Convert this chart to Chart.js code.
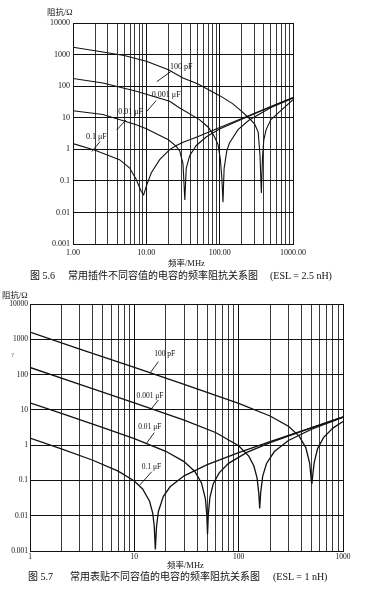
<!DOCTYPE html>
<html lang="zh">
<head>
<meta charset="utf-8">
<title>电容的频率阻抗关系图</title>
<script src="https://cdn.jsdelivr.net/npm/chart.js@4.4.0/dist/chart.umd.min.js"></script>
<style>
  body { margin: 0; background: #fff; }
  #page { position: relative; width: 371px; height: 589px; overflow: hidden;
          font-family: 'Liberation Serif', 'Noto Sans CJK SC', serif; color: #111; }
  canvas { position: absolute; left: 0; }
  .t { position: absolute; white-space: nowrap; line-height: 1; }
  .cap { font-size: 10px; }
  .ax { font-size: 8.5px; }
</style>
</head>
<body>
<div id="page">
  <canvas id="fig56" width="371" height="290" style="top:0"></canvas>
  <canvas id="fig57" width="371" height="299" style="top:290px"></canvas>

  <div class="t ax" style="left:47px;top:8px">阻抗/Ω</div>
  <div class="t ax" style="left:168px;top:259px">频率/MHz</div>
  <div class="t cap" style="left:30px;top:271px">图 5.6</div>
  <div class="t cap" style="left:68px;top:271px">常用插件不同容值的电容的频率阻抗关系图</div>
  <div class="t cap" style="left:270px;top:271px">(ESL = 2.5 nH)</div>

  <div class="t ax" style="left:2px;top:291px">阻抗/Ω</div>
  <div class="t" style="left:11px;top:352px;font-size:7px;color:#666">?</div>
  <div class="t ax" style="left:167px;top:561px">频率/MHz</div>
  <div class="t cap" style="left:28px;top:572px">图 5.7</div>
  <div class="t cap" style="left:70px;top:572px">常用表贴不同容值的电容的频率阻抗关系图</div>
  <div class="t cap" style="left:273px;top:572px">(ESL = 1 nH)</div>
</div>

<script>
// 刻度标签
const yTickValues = [0.001, 0.01, 0.1, 1, 10, 100, 1000, 10000];
const yTickLabels = ['0.001', '0.01', '0.1', '1', '10', '100', '1000', '10000'];
const xDecades = [1, 10, 100, 1000];
const xLabels56 = ['1.00', '10.00', '100.00', '1000.00'];
const xLabels57 = ['1', '10', '100', '1000'];

// 图 5.6 插件电容 (频率 MHz, 阻抗 Ω)
const f56_100p = [1, 2, 5, 10, 20, 31.6, 50, 100, 150, 200, 250, 300, 335, 355, 370, 385, 400, 430, 500, 700, 1000];
const z56_100p = [1700, 1320, 933, 617, 331, 182, 120, 50, 28, 15.8, 9.8, 6.3, 3.5, 0.63, 0.041, 0.63, 2.0, 4.2, 8.7, 17.8, 37];
const f56_1n = [1, 2.56, 7.3, 20.8, 28.5, 53, 70, 85, 95, 102, 107, 111, 115, 125, 136, 178, 250, 500, 1000];
const z56_1n = [174, 126, 69, 33, 20.4, 8.7, 5.0, 2.5, 1.41, 0.5, 0.126, 0.021, 0.25, 0.89, 1.58, 4.2, 8.3, 20.9, 41.7];
const f56_10n = [1, 2.56, 7.3, 10, 20, 25.6, 28.5, 31.6, 33.5, 35, 39, 48, 66, 100, 200, 500, 1000];
const z56_10n = [16.6, 12.6, 6.0, 4.5, 2.0, 1.23, 0.89, 0.35, 0.025, 0.25, 0.63, 1.32, 2.5, 4.4, 8.9, 22.4, 43];
const f56_100n = [1, 2, 4.3, 5.9, 7.3, 8.5, 9.2, 10, 11.7, 15.2, 20.8, 25.6, 33, 50, 100, 200, 500, 1000];
const z56_100n = [1.51, 0.93, 0.47, 0.26, 0.11, 0.047, 0.036, 0.068, 0.18, 0.47, 0.98, 1.32, 1.74, 2.5, 4.9, 9.5, 22.5, 44];

// 图 5.7 表贴电容
const f57_100p = [1, 3, 10, 30, 100, 200, 300, 380, 440, 480, 495, 503, 512, 530, 570, 650, 800, 1000];
const z57_100p = [1591, 530, 159, 52.9, 15.3, 6.7, 3.42, 1.8, 0.852, 0.3, 0.11, 0.08, 0.135, 0.327, 0.789, 1.636, 3.04, 4.69];
const f57_1n = [1, 3, 10, 30, 60, 100, 125, 140, 150, 156, 159, 162.5, 170, 185, 220, 300, 500, 1000];
const z57_1n = [159, 53, 15.85, 5.12, 2.28, 0.963, 0.488, 0.257, 0.1185, 0.043, 0.016, 0.044, 0.132, 0.302, 0.659, 1.354, 2.82, 6.12];
const f57_10n = [1, 2, 5, 10, 20, 30, 38, 44, 48, 49.5, 50.3, 51.2, 53, 57, 65, 80, 120, 200, 400, 1000];
const z57_10n = [15.9, 7.95, 3.15, 1.53, 0.67, 0.342, 0.18, 0.0852, 0.03, 0.0105, 0.003, 0.0109, 0.0327, 0.0789, 0.164, 0.304, 0.621, 1.18, 2.47, 6.27];
const f57_100n = [1, 2, 4, 7, 10, 12, 14, 15, 15.5, 15.9, 16.3, 17, 19, 22, 30, 50, 100, 200, 500, 1000];
const z57_100n = [1.585, 0.783, 0.373, 0.183, 0.0963, 0.0572, 0.0257, 0.0119, 0.0053, 0.0011, 0.0048, 0.0132, 0.0356, 0.0659, 0.135, 0.282, 0.612, 1.25, 3.14, 6.28];

// 曲线标注 (文字位置, 引线起点/终点, 均为数据坐标)
const notes56 = [
  { text: '100 pF',   at: [21.0, 414], from: [13.9, 139],  to: [21.5, 288] },
  { text: '0.001 μF', at: [11.9, 52.7], from: [10.1, 15.6], to: [13.6, 34.8] },
  { text: '0.01 μF',  at: [4.15, 14.9], from: [3.95, 4.11], to: [5.28, 8.5] },
  { text: '0.1 μF',   at: [1.50, 2.52], from: [1.80, 0.845], to: [2.34, 1.75] }
];
const notes57 = [
  { text: '100 pF',   at: [15.5, 384],  from: [14.1, 109],   to: [17.0, 232] },
  { text: '0.001 μF', at: [10.5, 24.8], from: [14.7, 11.1],  to: [17.0, 19.1] },
  { text: '0.01 μF',  at: [10.9, 3.34], from: [13.1, 1.13],  to: [15.5, 2.26] },
  { text: '0.1 μF',   at: [11.8, 0.237], from: [11.3, 0.0746], to: [14.7, 0.177] }
];

Chart.defaults.font.family = "'Liberation Serif', 'Noto Sans CJK SC', serif";
Chart.defaults.color = '#111';

const xGridTicks = [];
for (let d = 1; d <= 100; d *= 10) {
  for (let m = 1; m < 10; m++) xGridTicks.push(d * m);
}
xGridTicks.push(1000);

function series(fs, zs) {
  return fs.map((f, i) => ({ x: f, y: zs[i] }));
}

const notePlugin = {
  id: 'notes',
  afterDatasetsDraw(chart, args, opts) {
    const { ctx, scales: { x, y } } = chart;
    ctx.save();
    ctx.strokeStyle = '#111';
    ctx.lineWidth = 0.9;
    ctx.fillStyle = '#111';
    ctx.font = opts.size + "px 'Liberation Serif', serif";
    ctx.textBaseline = 'middle';
    ctx.textAlign = 'left';
    opts.items.forEach(n => {
      ctx.beginPath();
      ctx.moveTo(x.getPixelForValue(n.from[0]), y.getPixelForValue(n.from[1]));
      ctx.lineTo(x.getPixelForValue(n.to[0]), y.getPixelForValue(n.to[1]));
      ctx.stroke();
      ctx.fillText(n.text, x.getPixelForValue(n.at[0]), y.getPixelForValue(n.at[1]));
    });
    ctx.restore();
  }
};

function makeChart(id, sets, cfg) {
  const ctx = document.getElementById(id).getContext('2d');
  return new Chart(ctx, {
    type: 'line',
    data: {
      datasets: sets.map(s => ({
        data: series(s[0], s[1]),
        borderColor: '#111',
        borderWidth: cfg.lineWidth,
        pointRadius: 0,
        tension: 0,
        fill: false
      }))
    },
    options: {
      responsive: false,
      animation: false,
      devicePixelRatio: 1,
      layout: { padding: cfg.padding },
      plugins: {
        legend: { display: false },
        tooltip: { enabled: false },
        notes: { items: cfg.notes, size: cfg.noteSize }
      },
      scales: {
        x: {
          type: 'logarithmic',
          min: 1,
          max: 1000,
          afterBuildTicks: s => { s.ticks = xGridTicks.map(v => ({ value: v })); },
          afterFit: s => { s.height = cfg.xHeight; },
          grid: {
            drawTicks: false,
            lineWidth: 1,
            color: c => xDecades.includes(c.tick && c.tick.value) ? '#111' : '#3a3a3a'
          },
          border: { display: true, color: '#111', width: 1 },
          ticks: {
            autoSkip: false,
            maxRotation: 0,
            padding: cfg.xPad,
            font: { size: cfg.tickSize },
            callback: v => {
              const i = xDecades.indexOf(v);
              return i >= 0 ? cfg.xLabels[i] : '';
            }
          }
        },
        y: {
          type: 'logarithmic',
          min: 0.001,
          max: 10000,
          afterBuildTicks: s => { s.ticks = yTickValues.map(v => ({ value: v })); },
          afterFit: s => { s.width = cfg.yWidth; },
          grid: { drawTicks: false, color: '#111', lineWidth: 1 },
          border: { display: true, color: '#111', width: 1 },
          ticks: {
            padding: cfg.yPad,
            font: { size: cfg.tickSize },
            callback: v => {
              const i = yTickValues.indexOf(v);
              return i >= 0 ? yTickLabels[i] : '';
            }
          }
        }
      }
    },
    plugins: [notePlugin]
  });
}

window.onload = function () {
  makeChart('fig56', [
    [f56_100p, z56_100p], [f56_1n, z56_1n], [f56_10n, z56_10n], [f56_100n, z56_100n]
  ], {
    padding: { top: 23, right: 78, left: 0, bottom: 0 },
    xHeight: 46, yWidth: 73, xPad: 4, yPad: 3, tickSize: 8,
    lineWidth: 1.1, xLabels: xLabels56, notes: notes56, noteSize: 8
  });
  makeChart('fig57', [
    [f57_100p, z57_100p], [f57_1n, z57_1n], [f57_10n, z57_10n], [f57_100n, z57_100n]
  ], {
    padding: { top: 14, right: 28, left: 0, bottom: 0 },
    xHeight: 38, yWidth: 30, xPad: 2, yPad: 2, tickSize: 7.5,
    lineWidth: 1.3, xLabels: xLabels57, notes: notes57, noteSize: 7.5
  });
};
</script>
</body>
</html>
